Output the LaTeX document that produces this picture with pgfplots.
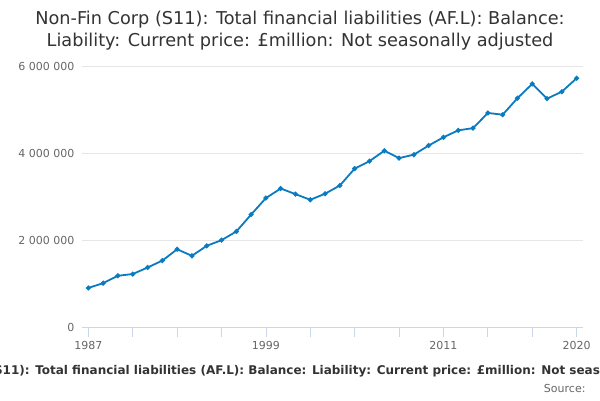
\documentclass[border=0pt]{standalone}
\usepackage{pgfplots}
\pgfplotsset{compat=1.18}
\usepackage{fontspec}
\setmainfont{DejaVu Sans}
\definecolor{linec}{HTML}{0B7BC1}
\definecolor{gridc}{HTML}{E6E6E6}
\definecolor{axc}{HTML}{CCD6EB}
\definecolor{labc}{HTML}{666666}
\definecolor{titc}{HTML}{333333}
\begin{document}
\begin{tikzpicture}
\path[use as bounding box] (0pt,0pt) rectangle (600pt,400pt);
\node[text=titc,font=\fontsize{17.7}{22}\selectfont,align=center] at (300pt,369pt)
 {Non-Fin Corp (S11): Total financial liabilities (AF.L): Balance:\\Liability: Current price: £million: Not seasonally adjusted};
\begin{axis}[
  at={(82pt,73pt)}, anchor=south west,
  scale only axis, width=501pt, height=260.5pt,
  xmin=1986.57, xmax=2020.43, ymin=0, ymax=6000000,
  axis x line*=bottom,
  axis y line*=left,
  x axis line style={axc, line width=1pt, -},
  y axis line style={draw=none},
  ymajorgrids, grid style={gridc, line width=0.8pt},
  ytick={0,2000000,4000000,6000000},
  yticklabels={0,2 000 000,4 000 000,6 000 000},
  scaled y ticks=false,
  xtick={1987,1990,1993,1996,1999,2002,2005,2008,2011,2014,2017,2020},
  xticklabels={1987,,,,1999,,,,2011,,,2020},
  xtick style={axc, line width=0.8pt},
  ytick style={draw=none},
  tick align=outside,
  major tick length=10pt,
  yticklabel style={xshift=6pt},
  xticklabel style={yshift=-1pt},
  ticklabel style={text=labc,font=\fontsize{11}{13}\selectfont},
  /pgf/number format/assume math mode=true,
]
\addplot[linec, line width=1.8pt, mark=*, mark size=1.5pt] coordinates {
(1987,900000)(1988,1010000)(1989,1180000)(1990,1220000)(1991,1370000)
(1992,1530000)(1993,1790000)(1994,1640000)(1995,1870000)(1996,2000000)
(1997,2200000)(1998,2590000)(1999,2970000)(2000,3190000)(2001,3060000)
(2002,2930000)(2003,3070000)(2004,3260000)(2005,3650000)(2006,3820000)
(2007,4060000)(2008,3890000)(2009,3970000)(2010,4180000)(2011,4370000)
(2012,4530000)(2013,4580000)(2014,4930000)(2015,4890000)(2016,5270000)
(2017,5600000)(2018,5260000)(2019,5420000)(2020,5730000)};
\end{axis}
\node[text=titc,font=\bfseries\fontsize{12}{14}\selectfont] at (300pt,29pt)
 {Non-Fin Corp (S11): Total financial liabilities (AF.L): Balance: Liability: Current price: £million: Not seasonally adjusted};
\node[anchor=east,text=labc,font=\fontsize{11}{13}\selectfont] at (589pt,12pt) {Source:};
\end{tikzpicture}
\end{document}
